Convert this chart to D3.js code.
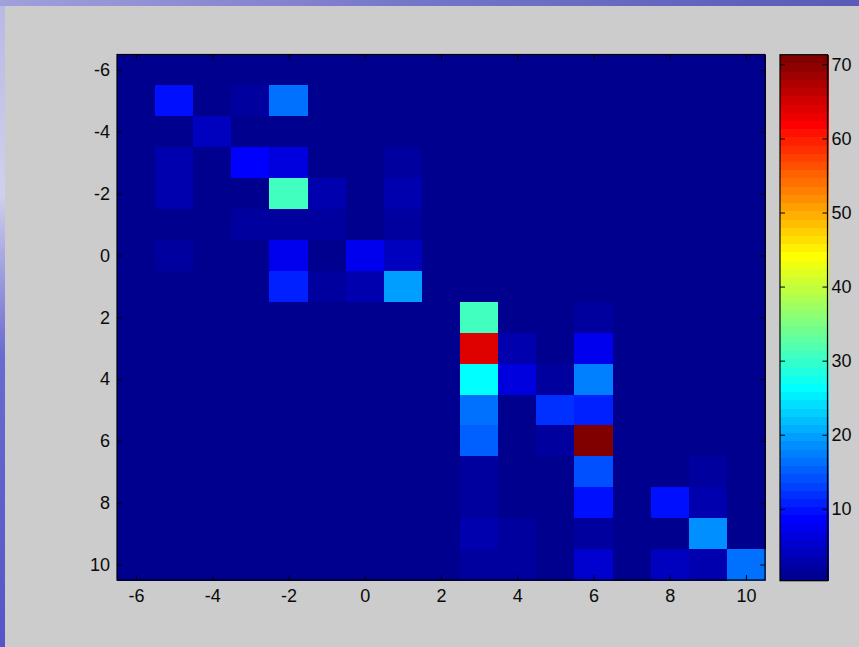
<!DOCTYPE html>
<html>
<head>
<meta charset="utf-8">
<script src="https://cdn.jsdelivr.net/npm/d3@7"></script>
<style>
  body { margin: 0; overflow: hidden; }
  text { font-family: "Liberation Sans", Arial, Helvetica, sans-serif; }
</style>
</head>
<body>
<div id="chart"></div>
<script>
// grid positions (imagesc style: one cell per integer)
const xValues = d3.range(-6, 11);
const yValues = d3.range(-6, 11);

// cell values, one row per y (from -6 to 10), one column per x (from -6 to 10)
const cellValues = [
  [0, 0,   0,   0,   0,    0,   0,   0,  0, 0,    0, 0,  0,    0, 0,   0,    0],
  [0, 9.7, 0,   2,   16.5, 0,   0,   0,  0, 0,    0, 0,  0,    0, 0,   0,    0],
  [0, 0,   4,   0,   0,    0,   0,   0,  0, 0,    0, 0,  0,    0, 0,   0,    0],
  [0, 3,   0,   8.2, 6,    0,   0,   2,  0, 0,    0, 0,  0,    0, 0,   0,    0],
  [0, 3,   0,   0,   31,   3,   0,   3,  0, 0,    0, 0,  0,    0, 0,   0,    0],
  [0, 0,   0,   2,   2,    2,   0,   2,  0, 0,    0, 0,  0,    0, 0,   0,    0],
  [0, 2,   0,   0,   7,    0,   7.5, 4,  0, 0,    0, 0,  0,    0, 0,   0,    0],
  [0, 0,   0,   0,   10.8, 2,   3,   20, 0, 0,    0, 0,  0,    0, 0,   0,    0],
  [0, 0,   0,   0,   0,    0,   0,   0,  0, 31,   0, 0,  2,    0, 0,   0,    0],
  [0, 0,   0,   0,   0,    0,   0,   0,  0, 64,   3, 0,  7.5,  0, 0,   0,    0],
  [0, 0,   0,   0,   0,    0,   0,   0,  0, 26.5, 6, 2,  17.5, 0, 0,   0,    0],
  [0, 0,   0,   0,   0,    0,   0,   0,  0, 16.5, 0, 12, 11,   0, 0,   0,    0],
  [0, 0,   0,   0,   0,    0,   0,   0,  0, 15.5, 0, 2,  71,   0, 0,   0,    0],
  [0, 0,   0,   0,   0,    0,   0,   0,  0, 2,    0, 0,  14.5, 0, 0,   2,    0],
  [0, 0,   0,   0,   0,    0,   0,   0,  0, 2,    0, 0,  9.7,  0, 9.7, 3,    0],
  [0, 0,   0,   0,   0,    0,   0,   0,  0, 3,    2, 0,  2,    0, 0,   18.5, 0],
  [0, 0,   0,   0,   0,    0,   0,   0,  0, 2,    2, 0,  5,    0, 4,   3,    16.5]
];

const xTicks = [-6, -4, -2, 0, 2, 4, 6, 8, 10];
const yTicks = [-6, -4, -2, 0, 2, 4, 6, 8, 10];
const colorTicks = [10, 20, 30, 40, 50, 60, 70];
const colorLimits = [0.3, 71.3];

const width = 859, height = 647;
const N_COLORS = 64;

// MATLAB jet(64)
function jet(i) { // i = 1..64
  let r, g, b;
  if (i <= 8) { r = 0; g = 0; b = (i + 8) / 16; }
  else if (i <= 24) { r = 0; g = (i - 8) / 16; b = 1; }
  else if (i <= 40) { r = (i - 24) / 16; g = 1; b = (40 - i) / 16; }
  else if (i <= 56) { r = 1; g = (56 - i) / 16; b = 0; }
  else { r = (72 - i) / 16; g = 0; b = 0; }
  return d3.rgb(r * 255, g * 255, b * 255).toString();
}

const colorIndex = d3.scaleQuantize()
  .domain(colorLimits)
  .range(d3.range(1, N_COLORS + 1));

function colorOf(v) {
  const c = Math.max(colorLimits[0], Math.min(colorLimits[1], v));
  return jet(colorIndex(c));
}

const svg = d3.select('#chart')
  .append('svg')
  .attr('width', width)
  .attr('height', height);

// slide background behind the figure
const defs = svg.append('defs');
const grad = defs.append('linearGradient')
  .attr('id', 'slide')
  .attr('x1', 0).attr('y1', 0).attr('x2', 0).attr('y2', 1);
grad.append('stop').attr('offset', '0%').attr('stop-color', '#b8b8e4');
grad.append('stop').attr('offset', '30%').attr('stop-color', '#d0d0ee');
grad.append('stop').attr('offset', '55%').attr('stop-color', '#6a6ad0');
grad.append('stop').attr('offset', '100%').attr('stop-color', '#5555c8');

const gradTop = defs.append('linearGradient')
  .attr('id', 'slideTop')
  .attr('x1', 0).attr('y1', 0).attr('x2', 1).attr('y2', 0);
gradTop.append('stop').attr('offset', '0%').attr('stop-color', '#a0a0dc');
gradTop.append('stop').attr('offset', '50%').attr('stop-color', '#7474c8');
gradTop.append('stop').attr('offset', '100%').attr('stop-color', '#5a5ab8');

svg.append('rect')
  .attr('width', width).attr('height', height)
  .attr('fill', 'url(#slide)');

svg.append('rect')
  .attr('width', width).attr('height', 6)
  .attr('fill', 'url(#slideTop)');

// figure panel
svg.append('rect')
  .attr('x', 5).attr('y', 6)
  .attr('width', width - 5).attr('height', height - 6)
  .attr('fill', '#cccccc');

// main axes
const axLeft = 117, axRight = 765, axTop = 54.5, axBottom = 580;

const x = d3.scaleLinear().domain([-6.5, 10.5]).range([axLeft, axRight]);
const y = d3.scaleLinear().domain([-6.5, 10.5]).range([axTop, axBottom]);

const cells = [];
yValues.forEach((yv, r) => {
  xValues.forEach((xv, c) => {
    cells.push({ x: xv, y: yv, v: cellValues[r][c] });
  });
});

svg.append('g')
  .attr('shape-rendering', 'crispEdges')
  .selectAll('rect')
  .data(cells)
  .join('rect')
  .attr('x', d => x(d.x - 0.5))
  .attr('y', d => y(d.y - 0.5))
  .attr('width', x(1) - x(0) + 0.5)
  .attr('height', y(1) - y(0) + 0.5)
  .attr('fill', d => colorOf(d.v));

// axes with inward ticks, plain hyphen minus like MATLAB
const TICK = 5;
const plain = d => String(d);
const styleAxis = g => {
  g.select('.domain').remove();
  g.selectAll('.tick line').attr('stroke', '#000');
  g.selectAll('.tick text')
    .attr('fill', '#0a0a0a')
    .attr('font-size', '18px')
    .style('font-family', '"Liberation Sans", Arial, sans-serif');
};

svg.append('g')
  .attr('transform', `translate(0, ${axBottom})`)
  .call(d3.axisBottom(x).tickValues(xTicks).tickFormat(plain).tickSize(-TICK).tickPadding(9))
  .call(styleAxis);

svg.append('g')
  .attr('transform', `translate(0, ${axTop})`)
  .call(d3.axisTop(x).tickValues(xTicks).tickSize(-TICK).tickFormat(''))
  .call(styleAxis);

svg.append('g')
  .attr('transform', `translate(${axLeft}, 0)`)
  .call(d3.axisLeft(y).tickValues(yTicks).tickFormat(plain).tickSize(-TICK).tickPadding(7))
  .call(styleAxis);

svg.append('g')
  .attr('transform', `translate(${axRight}, 0)`)
  .call(d3.axisRight(y).tickValues(yTicks).tickSize(-TICK).tickFormat(''))
  .call(styleAxis);

svg.append('rect')
  .attr('x', axLeft).attr('y', axTop)
  .attr('width', axRight - axLeft).attr('height', axBottom - axTop)
  .attr('fill', 'none')
  .attr('stroke', '#000')
  .attr('stroke-width', 1.2);

// colorbar
const cbLeft = 780, cbRight = 827.5, cbTop = 54.7, cbBottom = 580.7;
const cScale = d3.scaleLinear().domain(colorLimits).range([cbBottom, cbTop]);
const step = (colorLimits[1] - colorLimits[0]) / N_COLORS;

svg.append('g')
  .attr('shape-rendering', 'crispEdges')
  .selectAll('rect')
  .data(d3.range(1, N_COLORS + 1))
  .join('rect')
  .attr('x', cbLeft)
  .attr('y', i => cScale(colorLimits[0] + i * step))
  .attr('width', cbRight - cbLeft + 1.5)
  .attr('height', i => cScale(colorLimits[0] + (i - 1) * step) - cScale(colorLimits[0] + i * step) + 0.5)
  .attr('fill', i => jet(i));

svg.append('g')
  .attr('transform', `translate(${cbRight}, 0)`)
  .call(d3.axisRight(cScale).tickValues(colorTicks).tickFormat(plain).tickSize(-TICK).tickPadding(4))
  .call(styleAxis);

svg.append('g')
  .attr('transform', `translate(${cbLeft}, 0)`)
  .call(d3.axisLeft(cScale).tickValues(colorTicks).tickSize(-TICK).tickFormat(''))
  .call(styleAxis);

svg.append('rect')
  .attr('x', cbLeft).attr('y', cbTop)
  .attr('width', cbRight - cbLeft).attr('height', cbBottom - cbTop)
  .attr('fill', 'none')
  .attr('stroke', '#000')
  .attr('stroke-width', 1.2);
</script>
</body>
</html>
